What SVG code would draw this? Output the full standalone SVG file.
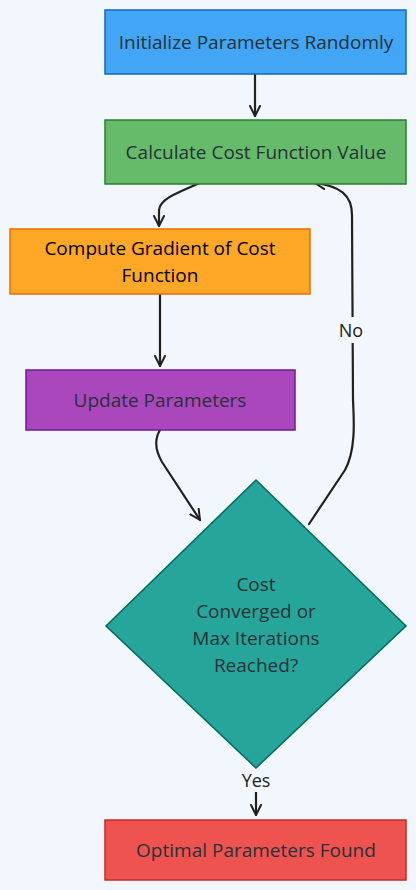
<svg xmlns="http://www.w3.org/2000/svg" width="416" height="890" viewBox="0 0 416 890">
<defs>
<style>
.t{font-family:"Open Sans","Liberation Sans",sans-serif;font-size:19px;fill:#263238;text-anchor:middle;dominant-baseline:central}
.lbl{font-family:"Open Sans","Liberation Sans",sans-serif;font-size:18px;fill:#212121;text-anchor:middle;dominant-baseline:central}
.e{fill:none;stroke:#212121;stroke-width:2.2;stroke-linecap:round}
</style>
<marker id="ah" viewBox="0 0 12 12" refX="11" refY="6" markerWidth="12" markerHeight="12" markerUnits="userSpaceOnUse" orient="auto">
<path d="M1,1 L11,6 L1,11" fill="none" stroke="#212121" stroke-width="2" stroke-linecap="round" stroke-linejoin="round"/>
</marker>
</defs>
<rect width="416" height="890" fill="#f2f7fd"/>
<g id="connectors">
<path class="e" d="M255,70 L255,116" marker-end="url(#ah)"/>
<path class="e" d="M204,181 C180,192 160,198 159,210 L159,226" marker-end="url(#ah)"/>
<path class="e" d="M160,290 L160,366" marker-end="url(#ah)"/>
<path class="e" d="M160,430 C154,440 155,450 162,462 L200,520" marker-end="url(#ah)"/>
<path class="e" d="M309,524 L345,470 C356,450 354,420 353,400 L352,215 C352,195 340,186 315,183" marker-end="url(#ah)"/>
<path class="e" d="M256,740 L256,815" marker-end="url(#ah)"/>
<rect x="334" y="317" width="34" height="26" fill="#f2f7fd"/>
<text class="lbl" x="351" y="330">No</text>
<rect x="236" y="768" width="40" height="24" fill="#f2f7fd"/>
<text class="lbl" x="256" y="780">Yes</text>
</g>
<g id="init">
<rect x="105" y="10" width="301" height="64" fill="#42a5f5" stroke="#1565c0" stroke-width="1.5"/>
<text class="t" x="256" y="42">Initialize Parameters Randomly</text>
</g>
<g id="calc">
<rect x="105" y="120" width="301" height="64" fill="#66bb6a" stroke="#2e7d32" stroke-width="1.5"/>
<text class="t" x="256" y="152">Calculate Cost Function Value</text>
</g>
<g id="grad">
<rect x="10" y="229" width="300" height="65" fill="#ffa726" stroke="#ef6c00" stroke-width="1.5"/>
<text class="t" x="160" y="248" style="fill:#000">Compute Gradient of Cost</text>
<text class="t" x="160" y="275" style="fill:#000">Function</text>
</g>
<g id="update">
<rect x="26" y="370" width="269" height="60" fill="#ab47bc" stroke="#6a1b9a" stroke-width="1.5"/>
<text class="t" x="160" y="400">Update Parameters</text>
</g>
<g id="decision">
<polygon points="256,480 406,626 256,768 106,626" fill="#26a69a" stroke="#00695c" stroke-width="1.5"/>
<text class="t" x="256" y="584">Cost</text>
<text class="t" x="256" y="611">Converged or</text>
<text class="t" x="256" y="638">Max Iterations</text>
<text class="t" x="256" y="665">Reached?</text>
</g>
<g id="done">
<rect x="105" y="820" width="301" height="60" fill="#ef5350" stroke="#c62828" stroke-width="1.5"/>
<text class="t" x="256" y="850">Optimal Parameters Found</text>
</g>
</svg>
